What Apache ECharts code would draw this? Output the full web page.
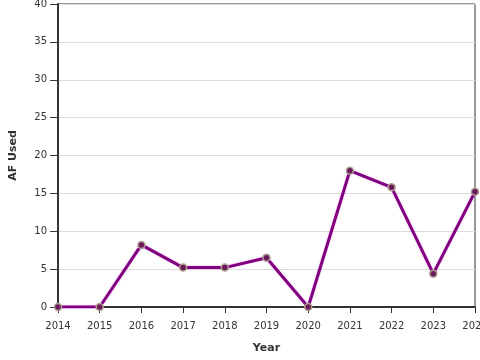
<!DOCTYPE html>
<html><head><meta charset="utf-8">
<script src="https://cdn.jsdelivr.net/npm/echarts@6/dist/echarts.min.js"></script>
<style>html,body{margin:0;padding:0;background:#fff}#c{width:480px;height:360px}</style>
</head><body><div id="c"></div>
<script>
const years = ['2014','2015','2016','2017','2018','2019','2020','2021','2022','2023','2024'];
const afUsed = [0, 0, 8.2, 5.2, 5.2, 6.5, 0, 18, 15.8, 4.4, 15.2];
const yTicks = {min: 0, max: 40, interval: 5};

const chart = echarts.init(document.getElementById('c'), null, {renderer: 'canvas'});
const font = 'DejaVu Sans';
chart.setOption({
  animation: false,
  grid: {left: 58, right: 5, top: 4, bottom: 53, show: true, borderColor: '#333', borderWidth: 1, backgroundColor: 'transparent', containLabel: false, outerBoundsMode: 'none'},
  xAxis: {
    type: 'category', data: years, boundaryGap: false,
    name: 'Year', nameLocation: 'middle', nameGap: 36,
    nameTextStyle: {fontFamily: font, fontSize: 11, fontWeight: 'bold', color: '#333'},
    axisLine: {lineStyle: {color: '#333', width: 2}},
    axisTick: {show: true, length: 6, lineStyle: {color: '#333', width: 1}, alignWithLabel: true},
    axisLabel: {fontFamily: font, fontSize: 10, color: '#333', margin: 14, interval: 0},
    splitLine: {show: false}
  },
  yAxis: {
    type: 'value', min: yTicks.min, max: yTicks.max, interval: yTicks.interval,
    name: 'AF Used', nameLocation: 'middle', nameGap: 39,
    nameTextStyle: {fontFamily: font, fontSize: 11, fontWeight: 'bold', color: '#333'},
    axisLine: {show: true, lineStyle: {color: '#333', width: 2}},
    axisTick: {show: true, length: 8, lineStyle: {color: '#333', width: 1}},
    axisLabel: {fontFamily: font, fontSize: 10, color: '#333', margin: 11},
    splitLine: {show: true, lineStyle: {color: '#dcdcdc', width: 1}}
  },
  series: [{
    type: 'line', data: afUsed,
    symbol: 'circle', symbolSize: 7,
    lineStyle: {color: '#800080', width: 3, shadowColor: 'rgba(230,120,230,0.6)', shadowBlur: 2},
    itemStyle: {color: '#6a1a5a', borderColor: '#b0a090', borderWidth: 1.5},
    z: 5
  }]
});
</script></body></html>
